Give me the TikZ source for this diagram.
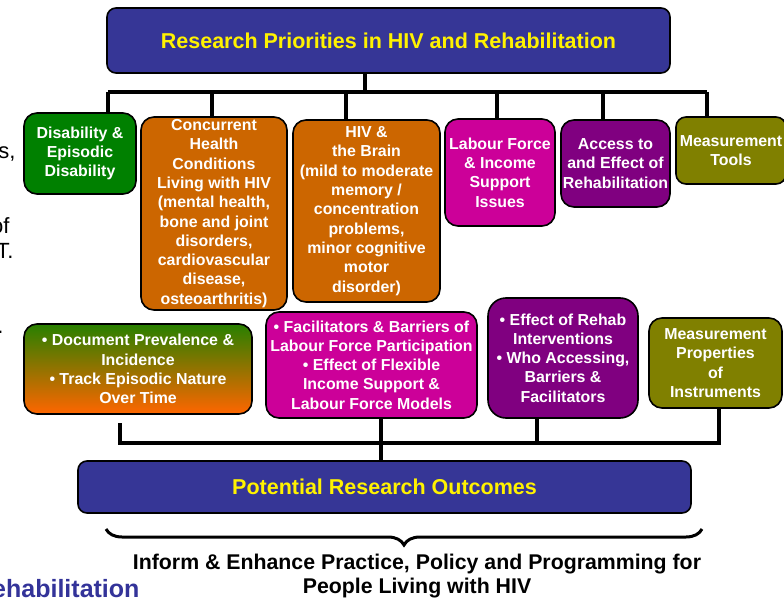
\documentclass[tikz,border=0pt]{standalone}
\usepackage{fontspec}
\setmainfont{Liberation Sans}
\usetikzlibrary{decorations.pathreplacing}
\definecolor{hdblue}{RGB}{54,54,150}
\definecolor{grn}{RGB}{0,128,0}
\definecolor{org}{RGB}{204,102,0}
\definecolor{mag}{RGB}{204,0,153}
\definecolor{pur}{RGB}{128,0,128}
\definecolor{olv}{RGB}{128,128,0}
\definecolor{gradtop}{RGB}{40,128,0}
\definecolor{gradbot}{RGB}{255,102,0}
\definecolor{fragblue}{RGB}{51,51,153}

\begin{document}
\begin{tikzpicture}[x=1pt,y=-1pt,
  box/.style={draw=black, line width=1.6pt, rounded corners=13pt, inner sep=0pt,
    align=center, text=white, font=\bfseries\fontsize{15.9}{19.3}\selectfont},
  head/.style={draw=black, line width=1.6pt, rounded corners=9pt, inner sep=0pt,
    fill=hdblue, text=yellow, font=\bfseries\fontsize{21.5}{26}\selectfont},
  wire/.style={line width=4pt},
  frag/.style={anchor=base east, font=\fontsize{22}{26}\selectfont}]
\useasboundingbox (0,0) rectangle (784,599);
\clip (0,0) rectangle (784,599);

% cut-off text of the slide behind
\node[frag] at (19,158) {ns,};
\node[frag] at (13,233) {of};
\node[frag] at (17,258) {T.};
\node[frag] at (7,333) {.};
\node[frag, text=fragblue, font=\bfseries\fontsize{25}{30}\selectfont] at (143,597) {Rehabilitation};

% header and outcome
\node[head, minimum width=563, minimum height=65] (title) at (388.5,40.5) {Research Priorities in HIV and Rehabilitation};
\node[head, minimum width=613, minimum height=52] (outcome) at (384.5,487) {Potential Research Outcomes};

% priorities
\node[box, fill=grn, minimum width=112, minimum height=81] (dis) at (80,153.5) {Disability \&\\Episodic\\Disability};
\node[box, fill=org, minimum width=146, minimum height=193] (conc) at (214,213.5) {Concurrent\\Health\\Conditions\\Living with HIV\\(mental health,\\bone and joint\\disorders,\\cardiovascular\\disease,\\osteoarthritis)};
\node[box, fill=org, minimum width=147, minimum height=182] (brain) at (366.5,211) {HIV \&\\the Brain\\(mild to moderate\\memory /\\concentration\\problems,\\minor cognitive\\motor\\disorder)};
\node[box, fill=mag, minimum width=110, minimum height=107] (labour) at (500,172.5) {Labour Force\\\& Income\\Support\\Issues};
\node[box, fill=pur, minimum width=109, minimum height=87] (access) at (615.5,163.5) {Access to\\and Effect of\\Rehabilitation};
\node[box, fill=olv, minimum width=110, minimum height=67, rounded corners=10pt] (tools) at (731,150.5) {Measurement\\Tools};

% research questions
\node[box, top color=gradtop, bottom color=gradbot, minimum width=228, minimum height=90] (prev) at (138,369) {• Document Prevalence \&\\Incidence\\• Track Episodic Nature\\Over Time};
\node[box, fill=mag, minimum width=211, minimum height=106] (facil) at (371.5,365) {• Facilitators \& Barriers of\\Labour Force Participation\\• Effect of Flexible\\Income Support \&\\Labour Force Models};
\node[box, fill=pur, minimum width=150, minimum height=120, rounded corners=18pt] (effect) at (563,358) {• Effect of Rehab\\Interventions\\• Who Accessing,\\Barriers \&\\Facilitators};
\node[box, fill=olv, minimum width=133, minimum height=90] (props) at (715.5,363) {Measurement\\Properties\\of\\Instruments};

% top connectors
\coordinate (stem) at (365,92);
\coordinate (d1) at (108,92);
\coordinate (d2) at (212,92);
\coordinate (d3) at (346,92);
\coordinate (d4) at (497,92);
\coordinate (d5) at (603,92);
\coordinate (d6) at (707,92);
\draw[wire] (stem |- title.south) -- (stem);
\draw[wire] (d1) -- (d6);
\draw[wire] (d1) -- (d1 |- dis.north);
\draw[wire] (d2) -- (d2 |- conc.north);
\draw[wire] (d3) -- (d3 |- brain.north);
\draw[wire] (d4) -- (d4 |- labour.north);
\draw[wire] (d5) -- (d5 |- access.north);
\draw[wire] (d6) -- (d6 |- tools.north);

% bottom connectors
\coordinate (stub) at (120,423);
\coordinate (m1) at (381,443);
\coordinate (m2) at (537,443);
\coordinate (br) at (719,443);
\draw[wire] (stub) |- (br) -- (br |- props.south);
\draw[wire] (m1 |- facil.south) -- (m1 |- outcome.north);
\draw[wire] (m2 |- effect.south) -- (m2);

% brace and conclusion
\coordinate (braceL) at (106,529);
\coordinate (braceR) at (702,529);
\draw[line width=3pt, decorate, decoration={brace, amplitude=16pt, mirror}] (braceL) -- (braceR);
\node[align=center, font=\bfseries\fontsize{21.3}{24}\selectfont] (inform) at (417,576) {Inform \& Enhance Practice, Policy and Programming for\\People Living with HIV};
\end{tikzpicture}
\end{document}
